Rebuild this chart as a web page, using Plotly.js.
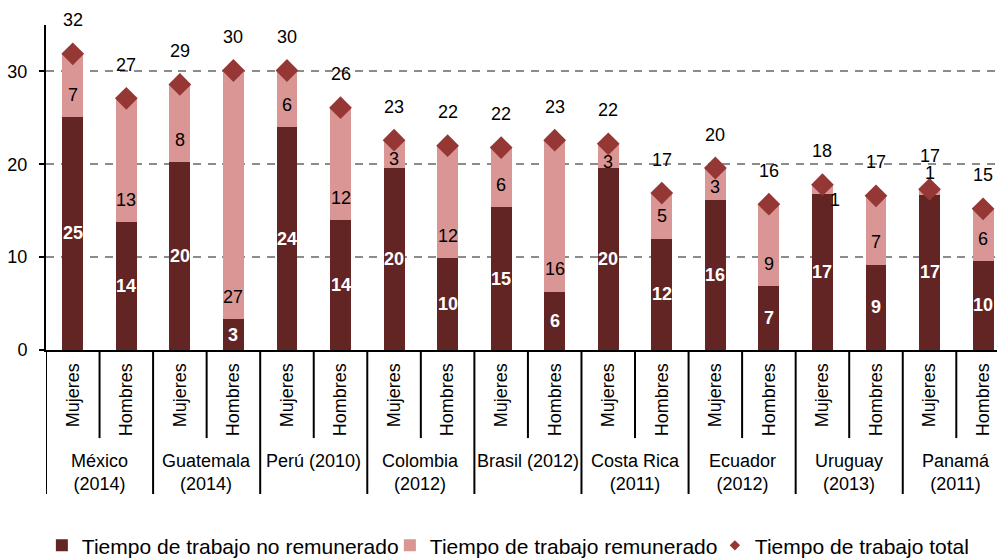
<!DOCTYPE html>
<html>
<head>
<meta charset="utf-8">
<script src="https://cdn.plot.ly/plotly-3.0.1.min.js"></script>
<style>html,body{margin:0;padding:0;background:#fff;}#chart{width:997px;height:558px;}</style>
</head>
<body>
<div id="chart"></div>
<script>
// ---- data ----
var countries = ['México<br>(2014)', 'Guatemala<br>(2014)', 'Perú (2010)', 'Colombia<br>(2012)', 'Brasil (2012)', 'Costa Rica<br>(2011)', 'Ecuador<br>(2012)', 'Uruguay<br>(2013)', 'Panamá<br>(2011)'];
var sexes = ['Mujeres', 'Hombres'];
// Tiempo de trabajo no remunerado (horas)
var noRemunerado = [25.1, 13.8, 20.2, 3.3, 24.0, 14.0, 19.6, 9.9, 15.4, 6.3, 19.6, 12.0, 16.2, 6.9, 16.8, 9.2, 16.7, 9.6];
// Tiempo de trabajo remunerado (horas)
var remunerado = [6.8, 13.3, 8.4, 26.8, 6.1, 12.1, 3.0, 12.1, 6.4, 16.3, 2.6, 4.9, 3.4, 8.8, 1.0, 7.4, 0.6, 5.6];
// Tiempo de trabajo total (horas)
var total = [31.9, 27.1, 28.6, 30.1, 30.1, 26.1, 22.6, 22.0, 21.8, 22.6, 22.2, 16.9, 19.6, 15.7, 17.8, 16.6, 17.3, 15.2];
var yTicks = [0, 10, 20, 30];

var names = ['Tiempo de trabajo no remunerado', 'Tiempo de trabajo remunerado', 'Tiempo de trabajo total'];

// ---- styles ----
var FONT = 'Liberation Sans, Arial, sans-serif';
var C_DARK = '#632523', C_PINK = '#D99694', C_DIAM = '#953735';

var keys = [], tickText = [];
countries.forEach(function (c) {
  sexes.forEach(function (s) { keys.push(c + ' | ' + s); tickText.push(s); });
});

var traces = [
  {type: 'bar', x: keys, y: noRemunerado, name: names[0], marker: {color: C_DARK}, width: 0.39,
   legendwidth: 303, hoverinfo: 'skip'},
  {type: 'bar', x: keys, y: remunerado, name: names[1], marker: {color: C_PINK}, width: 0.39,
   legendwidth: 280, hoverinfo: 'skip'},
  {type: 'scatter', mode: 'markers', x: keys, y: total, name: names[2], showlegend: false, cliponaxis: false,
   marker: {symbol: 'diamond', size: 17.5, color: C_DIAM}, hoverinfo: 'skip'},
  {type: 'scatter', mode: 'markers', x: [null], y: [null], name: names[2],
   marker: {symbol: 'diamond', size: 8, color: C_DIAM}, hoverinfo: 'skip'}
];

var ann = [];
var lblFont = {family: FONT, size: 18, color: '#000'};
var whiteFont = {family: FONT, size: 18, color: '#fff', weight: 'bold'};
for (var i = 0; i < keys.length; i++) {
  ann.push({x: keys[i], y: noRemunerado[i] / 2, text: '<b>' + Math.round(noRemunerado[i]) + '</b>',
            showarrow: false, font: whiteFont});
  var r = remunerado[i];
  var pa = {x: keys[i], text: String(Math.round(r)), showarrow: false, font: lblFont};
  if (r < 1.5) {
    pa.y = total[i];
    if (i === 14) { pa.xshift = 13; pa.yshift = -15; } else { pa.yshift = 16; }
  } else {
    pa.y = noRemunerado[i] + Math.min(2.4, r - 2.0);
  }
  ann.push(pa);
  ann.push({x: keys[i], y: total[i], yshift: 33.5, text: String(Math.round(total[i])), showarrow: false, font: lblFont});
}

var shapes = [];
for (var g = 0; g < countries.length; g++) {
  // group divider
  shapes.push({type: 'line', xref: 'x', yref: 'paper', x0: 2 * g - 0.5, x1: 2 * g - 0.5, y0: 0, y1: -0.443,
               line: {color: '#000', width: 2}});
  // divider between Mujeres / Hombres
  shapes.push({type: 'line', xref: 'x', yref: 'paper', x0: 2 * g + 0.5, x1: 2 * g + 0.5, y0: 0, y1: -0.271,
               line: {color: '#000', width: 2}});
  ann.push({x: 2 * g + 0.5, xref: 'x', yref: 'paper', y: -0.305, yanchor: 'top', text: countries[g],
            showarrow: false, font: lblFont});
}

var layout = {
  width: 997, height: 558,
  margin: {l: 46, r: 0, t: 25, b: 208},
  paper_bgcolor: '#fff', plot_bgcolor: '#fff',
  barmode: 'stack',
  hovermode: false,
  font: {family: FONT, size: 18, color: '#000'},
  xaxis: {
    type: 'category', range: [-0.5, 17.26], tickvals: keys, ticktext: tickText, tickangle: -90,
    ticks: '', showline: true, linecolor: '#000', linewidth: 2, showgrid: false, zeroline: false,
    tickfont: {family: FONT, size: 18, color: '#000'}, ticklabelstandoff: 4, fixedrange: true
  },
  yaxis: {
    range: [0, 35], tickvals: yTicks, ticks: 'outside', ticklen: 5, tickwidth: 2, tickcolor: '#000',
    showline: true, linecolor: '#000', linewidth: 2, zeroline: false,
    showgrid: true, gridcolor: '#8c8c8c', gridwidth: 2, griddash: '8px,6.7px',
    tickfont: {family: FONT, size: 18, color: '#000'}, ticklabelstandoff: 8, fixedrange: true
  },
  legend: {
    orientation: 'h', xref: 'container', yref: 'container', x: 0.042, y: 0.022, xanchor: 'left', yanchor: 'middle',
    font: {family: FONT, size: 21, color: '#000'}, bgcolor: 'rgba(0,0,0,0)', traceorder: 'normal'
  },
  shapes: shapes,
  annotations: ann
};

Plotly.newPlot('chart', traces, layout, {displayModeBar: false, staticPlot: true});
</script>
</body>
</html>
